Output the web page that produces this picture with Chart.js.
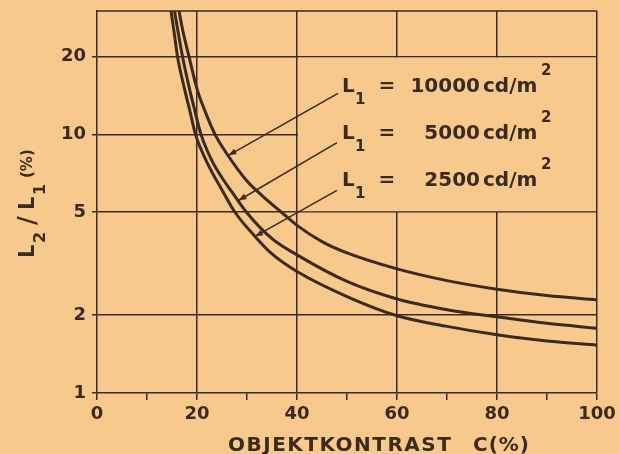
<!DOCTYPE html>
<html>
<head>
<meta charset="utf-8">
<script src="https://cdn.jsdelivr.net/npm/chart.js@4.4.0/dist/chart.umd.min.js"></script>
<style>
  html, body { margin: 0; padding: 0; background: #f8c98c; }
  canvas { display: block; }
</style>
</head>
<body>
<canvas id="chart" width="619" height="454"></canvas>
<script>
// readings: object contrast C (%) -> L2/L1 (%)
const contrast10000 = [16.4, 17.2, 18.4, 20, 21.6, 23.6, 26, 30, 33, 36.9, 40, 45, 50, 60, 70, 80, 90, 100];
const ratio10000    = [30, 25, 20, 15, 12.3, 10, 8.4, 6.6, 5.8, 5.0, 4.45, 3.85, 3.48, 3.02, 2.72, 2.52, 2.38, 2.29];

const contrast5000 = [15.5, 16.2, 17.1, 18.5, 19.5, 20.8, 23, 25, 27.5, 29.9, 35, 40, 50, 60, 70, 80, 90, 100];
const ratio5000    = [30, 25, 20, 15, 12.5, 10, 7.9, 6.8, 5.8, 5.0, 3.95, 3.42, 2.70, 2.31, 2.10, 1.97, 1.86, 1.78];

const contrast2500 = [14.8, 15.4, 16.1, 17.5, 18.5, 19.7, 22, 25, 27.6, 31.6, 35, 40, 50, 60, 70, 80, 90, 100];
const ratio2500    = [30, 25, 20, 15, 12.5, 10, 7.8, 6.1, 5.0, 4.03, 3.45, 2.95, 2.36, 1.99, 1.81, 1.68, 1.59, 1.53];

const yTickValues = [1, 2, 5, 10, 20];
const luminances = ['10000', '5000', '2500'];

// label anchors and leader arrows, in data units
const labelC = [49, 49, 49];
const labelRatio = [14.55, 9.56, 6.29];
const leaderStartC = [48.2, 48, 48];
const leaderStartRatio = [14.4, 9.3, 6.07];
const arrowTipC = [26.3, 28.3, 31.6];
const arrowTipRatio = [8.3, 5.55, 4.03];

// blank panel behind the labels (grid hidden there)
const boxC = [40, 100];
const boxRatio = [20, 5];

const ink = '#3b2a1f';
const paper = '#f8c98c';
const FONT = '"DejaVu Sans", sans-serif';

function toPoints(xs, ys) {
    return xs.map((x, i) => ({ x: x, y: ys[i] }));
}

const paperPlugin = {
    id: 'paper',
    beforeDraw(chart) {
        const ctx = chart.ctx;
        ctx.save();
        ctx.fillStyle = paper;
        ctx.fillRect(0, 0, chart.width, chart.height);
        ctx.restore();
    }
};

const boxPlugin = {
    id: 'labelBox',
    beforeDatasetsDraw(chart) {
        const { ctx, chartArea, scales } = chart;
        const l = scales.x.getPixelForValue(boxC[0]);
        const r = scales.x.getPixelForValue(boxC[1]);
        const t = scales.y.getPixelForValue(boxRatio[0]);
        const b = scales.y.getPixelForValue(boxRatio[1]);
        ctx.save();
        ctx.fillStyle = paper;
        ctx.fillRect(l + 1, t + 1, r - l - 2, b - t - 2);
        // top edge of the frame
        ctx.strokeStyle = ink;
        ctx.lineWidth = 1.5;
        ctx.beginPath();
        ctx.moveTo(chartArea.left, chartArea.top);
        ctx.lineTo(chartArea.right, chartArea.top);
        ctx.stroke();
        ctx.restore();
    }
};

function drawCurveLabel(ctx, x0, base, num) {
    ctx.fillStyle = ink;
    ctx.textBaseline = 'alphabetic';
    ctx.font = 'bold 20px ' + FONT;
    ctx.textAlign = 'left';
    ctx.fillText('L', x0, base);
    ctx.font = 'bold 15px ' + FONT;
    ctx.fillText('1', x0 + 13, base + 12);
    ctx.font = 'bold 20px ' + FONT;
    ctx.textAlign = 'center';
    ctx.fillText('=', x0 + 45, base);
    ctx.textAlign = 'right';
    ctx.fillText(num, x0 + 138, base);
    ctx.textAlign = 'left';
    ctx.fillText('cd/m', x0 + 141, base);
    ctx.font = 'bold 15px ' + FONT;
    ctx.fillText('2', x0 + 199, base - 17);
}

const annotationPlugin = {
    id: 'annotations',
    afterDatasetsDraw(chart) {
        const { ctx, scales } = chart;
        ctx.save();
        ctx.strokeStyle = ink;
        ctx.fillStyle = ink;
        ctx.lineWidth = 1.5;

        // leader lines with arrowheads
        for (let i = 0; i < luminances.length; i++) {
            const sx = scales.x.getPixelForValue(leaderStartC[i]);
            const sy = scales.y.getPixelForValue(leaderStartRatio[i]);
            const tx = scales.x.getPixelForValue(arrowTipC[i]);
            const ty = scales.y.getPixelForValue(arrowTipRatio[i]);
            ctx.beginPath();
            ctx.moveTo(sx, sy);
            ctx.lineTo(tx, ty);
            ctx.stroke();
            const a = Math.atan2(ty - sy, tx - sx);
            ctx.beginPath();
            ctx.moveTo(tx, ty);
            ctx.lineTo(tx - 8 * Math.cos(a) + 3 * Math.sin(a), ty - 8 * Math.sin(a) - 3 * Math.cos(a));
            ctx.lineTo(tx - 8 * Math.cos(a) - 3 * Math.sin(a), ty - 8 * Math.sin(a) + 3 * Math.cos(a));
            ctx.closePath();
            ctx.fill();

            const lx = scales.x.getPixelForValue(labelC[i]);
            const ly = scales.y.getPixelForValue(labelRatio[i]);
            drawCurveLabel(ctx, lx, ly, luminances[i]);
        }

        // x axis title
        ctx.font = 'bold 20px ' + FONT;
        ctx.textAlign = 'left';
        ctx.textBaseline = 'alphabetic';
        ctx.letterSpacing = '1.5px';
        ctx.fillText('OBJEKTKONTRAST', 228, 451);
        ctx.letterSpacing = '1px';
        ctx.fillText('C(%)', 473, 451);
        ctx.letterSpacing = '0px';

        // y axis title, rotated
        ctx.translate(34, 258);
        ctx.rotate(-Math.PI / 2);
        const part = (txt, size, px, dy) => {
            ctx.font = 'bold ' + size + 'px ' + FONT;
            ctx.fillText(txt, px, dy);
        };
        part('L', 21, 0, 0);
        part('2', 16, 15, 11);
        part('/', 24, 33, 1);
        part('L', 21, 48, 0);
        part('1', 16, 63, 11);
        part('(%)', 15, 80, -2);
        ctx.restore();
    }
};

new Chart(document.getElementById('chart'), {
    type: 'line',
    data: {
        datasets: [
            { label: '10000', data: toPoints(contrast10000, ratio10000) },
            { label: '5000', data: toPoints(contrast5000, ratio5000) },
            { label: '2500', data: toPoints(contrast2500, ratio2500) }
        ].map(ds => Object.assign(ds, {
            borderColor: ink,
            borderWidth: 3,
            pointRadius: 0,
            cubicInterpolationMode: 'monotone',
            fill: false
        }))
    },
    options: {
        responsive: false,
        animation: false,
        devicePixelRatio: 1,
        layout: { padding: { top: 11, right: 22, left: 0, bottom: 0 } },
        plugins: {
            legend: { display: false },
            tooltip: { enabled: false }
        },
        scales: {
            x: {
                type: 'linear',
                min: 0,
                max: 100,
                afterFit: s => { s.height = 61; s.paddingLeft = 0; s.paddingRight = 0; },
                ticks: {
                    stepSize: 10,
                    color: ink,
                    font: { family: FONT, weight: 'bold', size: 18 },
                    padding: 4,
                    maxRotation: 0,
                    callback: v => (v % 20 === 0 ? String(v) : '')
                },
                grid: {
                    color: c => (c.tick && c.tick.value % 20 === 0 && c.tick.value > 0 ? ink : 'rgba(0,0,0,0)'),
                    tickColor: ink,
                    lineWidth: 1.5,
                    tickLength: 7
                },
                border: { display: true, color: ink, width: 1.5 }
            },
            y: {
                type: 'logarithmic',
                min: 1,
                max: 30,
                afterFit: s => { s.width = 97; s.paddingTop = 0; s.paddingBottom = 0; },
                afterBuildTicks: s => { s.ticks = yTickValues.map(v => ({ value: v })); },
                ticks: {
                    color: ink,
                    font: { family: FONT, weight: 'bold', size: 18 },
                    padding: 6,
                    callback: v => String(v)
                },
                grid: {
                    color: c => (c.tick && c.tick.value > 1 ? ink : 'rgba(0,0,0,0)'),
                    tickColor: ink,
                    lineWidth: 1.5,
                    tickLength: 5
                },
                border: { display: true, color: ink, width: 1.5 }
            }
        }
    },
    plugins: [paperPlugin, boxPlugin, annotationPlugin]
});
</script>
</body>
</html>
